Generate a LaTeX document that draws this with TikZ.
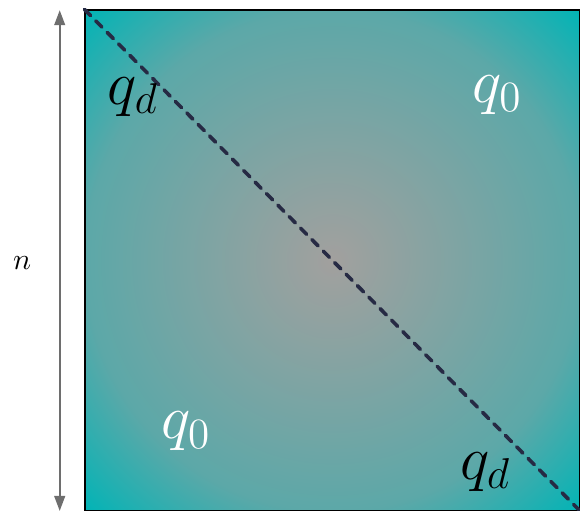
\documentclass[tikz,border=0pt]{standalone}
\usepackage{amsmath}
\usepackage{xcolor}
\usepackage{tikz}
\usetikzlibrary{arrows.meta, positioning}

\definecolor{rimteal}{RGB}{0,180,182}
\definecolor{midteal}{RGB}{92,168,168}
\definecolor{coregrey}{RGB}{162,160,158}
\definecolor{diagnavy}{RGB}{38,42,68}
\definecolor{sizegrey}{RGB}{110,110,110}
\pgfdeclareradialshading{gridshade}{\pgfpoint{0bp}{0bp}}{color(0bp)=(coregrey); color(25bp)=(midteal); color(35.5bp)=(rimteal); color(50bp)=(rimteal)}

\begin{document}
\begin{tikzpicture}[
    gridbox/.style={rectangle, minimum width=5.8cm, minimum height=5.87cm, inner sep=0pt, draw=black, semithick, shading=gridshade},
    blocklabel/.style={font=\huge, inner sep=1pt},
    sizearrow/.style={draw=sizegrey, semithick, {Triangle[length=5pt,width=3.6pt]}-{Triangle[length=5pt,width=3.6pt]}},
    diagline/.style={draw=diagnavy, very thick, line cap=round, dash pattern=on 2.9pt off 2.5pt}
]
    \useasboundingbox (0,0) rectangle (6.8,5.99);

    \node (grid) [gridbox] at (3.9,2.935) {};
    \draw [diagline] (grid.north west) -- (grid.south east);

    \node (dtop) [blocklabel, text=black] at (1.56,4.85) {$q_d$};
    \node (dbot) [blocklabel, text=black] at (5.69,0.46) {$q_d$};
    \node (ztop) [blocklabel, text=white] at (5.83,4.88) {$q_0$};
    \node (zbot) [blocklabel, text=white] at (2.18,0.93) {$q_0$};

    \coordinate (nhigh) at (0.70,5.87);
    \coordinate (nlow) at (0.70,0);
    \draw [sizearrow] (nlow) -- (nhigh);
    \node (nlabel) at (0.26,2.91) {$n$};
\end{tikzpicture}
\end{document}
